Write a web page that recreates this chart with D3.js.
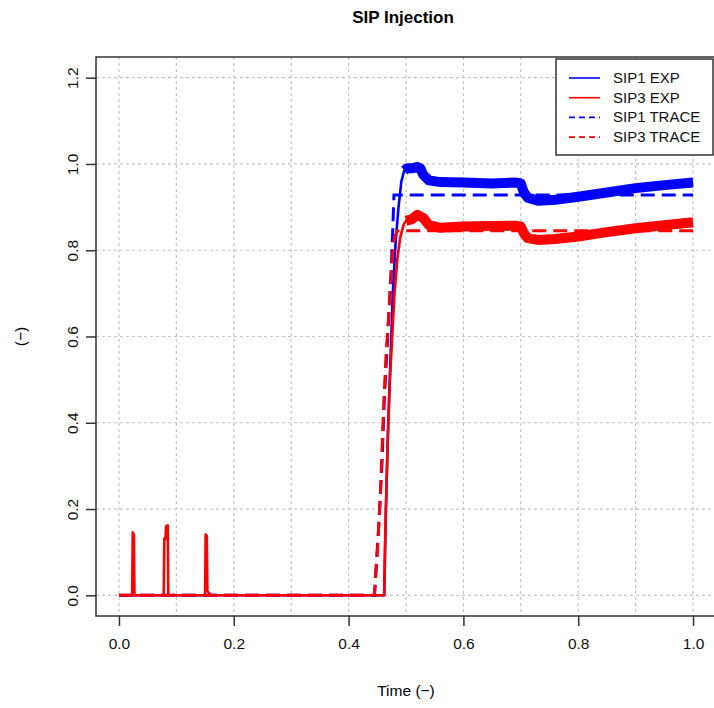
<!DOCTYPE html>
<html>
<head>
<meta charset="utf-8">
<script src="https://cdn.jsdelivr.net/npm/d3@7"></script>
<style>
  body { margin: 0; background: #fff; }
  text { font-family: "Liberation Sans", Arial, sans-serif; }
</style>
</head>
<body>
<div id="chart"></div>
<script>
// SIP1 EXP (blue) - time, value
var sip1Exp = [
    [0, 0], [0.462, 0], [0.465, 0.2], [0.469, 0.4], [0.473, 0.55], [0.477, 0.7],
    [0.482, 0.82], [0.487, 0.9], [0.492, 0.96], [0.497, 0.985], [0.502, 0.99],
    [0.51, 0.99], [0.52, 0.993], [0.525, 0.99], [0.53, 0.975], [0.54, 0.962],
    [0.56, 0.958], [0.6, 0.957], [0.65, 0.955], [0.69, 0.957], [0.70, 0.955],
    [0.705, 0.935], [0.712, 0.922], [0.73, 0.915], [0.76, 0.917], [0.8, 0.924],
    [0.85, 0.934], [0.9, 0.944], [0.95, 0.951], [1.0, 0.957]
];

// SIP3 EXP (red)
var sip3Exp = [
    [0, 0], [0.023, 0], [0.024, 0.146], [0.026, 0.14], [0.027, 0],
    [0.078, 0], [0.079, 0.132], [0.081, 0.13], [0.082, 0.16], [0.085, 0.162], [0.086, 0],
    [0.150, 0], [0.151, 0.141], [0.153, 0.138], [0.154, 0.01], [0.16, 0],
    [0.462, 0], [0.464, 0.15], [0.468, 0.35], [0.472, 0.5], [0.476, 0.6], [0.48, 0.7],
    [0.485, 0.78], [0.49, 0.83], [0.496, 0.86], [0.5, 0.868], [0.51, 0.872],
    [0.52, 0.882], [0.53, 0.875], [0.54, 0.858], [0.56, 0.852], [0.6, 0.855],
    [0.65, 0.856], [0.69, 0.857], [0.70, 0.855], [0.705, 0.84], [0.712, 0.828],
    [0.73, 0.824], [0.76, 0.826], [0.8, 0.832], [0.85, 0.842], [0.9, 0.851],
    [0.95, 0.858], [1.0, 0.865]
];

// SIP1 TRACE (blue dashed)
var sip1Trace = [
    [0, 0], [0.445, 0], [0.452, 0.15], [0.458, 0.3], [0.462, 0.45], [0.466, 0.55],
    [0.47, 0.65], [0.474, 0.75], [0.477, 0.85], [0.479, 0.928], [1.0, 0.928]
];

// SIP3 TRACE (red dashed)
var sip3Trace = [
    [0, 0], [0.445, 0], [0.45, 0.1], [0.455, 0.22], [0.46, 0.4], [0.465, 0.55],
    [0.47, 0.65], [0.476, 0.78], [0.48, 0.83], [0.485, 0.845], [1.0, 0.845]
];

var xTicks = [0, 0.2, 0.4, 0.6, 0.8, 1.0];
var yTicks = [0, 0.2, 0.4, 0.6, 0.8, 1.0, 1.2];
var xGrid = [0, 0.1, 0.2, 0.3, 0.4, 0.5, 0.6, 0.7, 0.8, 0.9, 1.0];
var legendNames = ["SIP1 EXP", "SIP3 EXP", "SIP1 TRACE", "SIP3 TRACE"];
var legendColors = ["#0000ff", "#ff0000", "#0000ff", "#ff0000"];
var legendDashed = [false, false, true, true];

function drawChart() {
    var W = 714, H = 708;

    // plot region (R style, 4% extension around data range)
    var x = d3.scaleLinear().domain([-0.04, 1.04]).range([96, 716]);
    var y = d3.scaleLinear().domain([-0.048, 1.248]).range([616, 57]);

    var svg = d3.select("#chart")
        .append("svg")
        .attr("width", W)
        .attr("height", H)
        .style("background-color", "#fff");

    var plotLeft = x(-0.04), plotRight = x(1.04), plotTop = y(1.248), plotBottom = y(-0.048);

    // grid
    svg.append("g").selectAll("line")
        .data(xGrid)
        .enter()
        .append("line")
        .attr("x1", d => x(d)).attr("x2", d => x(d))
        .attr("y1", plotTop).attr("y2", plotBottom)
        .attr("stroke", "#c4c4c4")
        .attr("stroke-width", 1.2)
        .attr("stroke-dasharray", "3,3");

    svg.append("g").selectAll("line")
        .data(yTicks)
        .enter()
        .append("line")
        .attr("x1", plotLeft).attr("x2", plotRight)
        .attr("y1", d => y(d)).attr("y2", d => y(d))
        .attr("stroke", "#c4c4c4")
        .attr("stroke-width", 1.2)
        .attr("stroke-dasharray", "3,3");

    svg.append("clipPath").attr("id", "clip")
        .append("rect")
        .attr("x", plotLeft).attr("y", plotTop)
        .attr("width", plotRight - plotLeft).attr("height", plotBottom - plotTop);

    var line = d3.line()
        .x(d => x(d[0]))
        .y(d => y(d[1]));

    var g = svg.append("g").attr("clip-path", "url(#clip)");

    // EXP lines: thin base plus thick noisy plateau band
    function drawExp(data, color) {
        g.append("path")
            .datum(data)
            .attr("d", line)
            .attr("fill", "none")
            .attr("stroke", color)
            .attr("stroke-width", 2.6)
            .attr("stroke-linejoin", "round");
        g.append("path")
            .datum(data.filter(d => d[0] >= 0.497))
            .attr("d", line)
            .attr("fill", "none")
            .attr("stroke", color)
            .attr("stroke-width", 10)
            .attr("stroke-linejoin", "round");
    }
    drawExp(sip1Exp, "#0000ff");
    drawExp(sip3Exp, "#ff0000");

    function drawTrace(data, color) {
        g.append("path")
            .datum(data)
            .attr("d", line)
            .attr("fill", "none")
            .attr("stroke", color)
            .attr("stroke-width", 3)
            .attr("stroke-dasharray", "14,7");
    }
    drawTrace(sip1Trace, "#0000ff");
    drawTrace(sip3Trace, "#ff0000");

    // box
    svg.append("rect")
        .attr("x", plotLeft).attr("y", plotTop)
        .attr("width", plotRight - plotLeft).attr("height", plotBottom - plotTop)
        .attr("fill", "none")
        .attr("stroke", "#333")
        .attr("stroke-width", 1.5);

    // X axis
    var xAxis = d3.axisBottom(x).tickValues(xTicks).tickFormat(d3.format(".1f"))
        .tickSize(10).tickPadding(12);
    var gx = svg.append("g")
        .attr("transform", "translate(0," + plotBottom + ")")
        .call(xAxis);
    gx.select(".domain").remove();
    gx.selectAll("line").attr("stroke", "#333").attr("stroke-width", 1.5);
    gx.selectAll("text").style("font-size", "15.5px").attr("fill", "#111");

    // Y axis (rotated labels)
    var yAxis = d3.axisLeft(y).tickValues(yTicks).tickFormat(d3.format(".1f"))
        .tickSize(10);
    var gy = svg.append("g")
        .attr("transform", "translate(" + plotLeft + ",0)")
        .call(yAxis);
    gy.select(".domain").remove();
    gy.selectAll("line").attr("stroke", "#333").attr("stroke-width", 1.5);
    gy.selectAll("text")
        .attr("x", 0).attr("dy", 0)
        .attr("transform", "translate(-18,0) rotate(-90)")
        .style("text-anchor", "middle")
        .style("font-size", "15.5px")
        .attr("fill", "#111");

    // title
    svg.append("text")
        .attr("x", (plotLeft + plotRight) / 2 - 3)
        .attr("y", 23)
        .attr("text-anchor", "middle")
        .style("font-size", "17px")
        .style("font-weight", "bold")
        .text("SIP Injection");

    // axis titles
    svg.append("text")
        .attr("x", (plotLeft + plotRight) / 2)
        .attr("y", 696)
        .attr("text-anchor", "middle")
        .style("font-size", "15.5px")
        .text("Time (\u2212)");

    svg.append("text")
        .attr("transform", "translate(26," + ((plotTop + plotBottom) / 2) + ") rotate(-90)")
        .attr("text-anchor", "middle")
        .style("font-size", "15.5px")
        .text("(\u2212)");

    // legend
    var lg = svg.append("g");
    lg.append("rect")
        .attr("x", 556).attr("y", plotTop + 2)
        .attr("width", 157).attr("height", 96)
        .attr("fill", "#fff")
        .attr("stroke", "#333")
        .attr("stroke-width", 1.5);

    var items = lg.selectAll("g.item")
        .data(legendNames)
        .enter()
        .append("g")
        .attr("transform", (d, i) => "translate(0," + (78 + i * 19.7) + ")");

    items.append("line")
        .attr("x1", 569).attr("x2", 600)
        .attr("y1", 0).attr("y2", 0)
        .attr("stroke", (d, i) => legendColors[i])
        .attr("stroke-width", 1.6)
        .attr("stroke-dasharray", (d, i) => legendDashed[i] ? "6,4" : null);

    items.append("text")
        .attr("x", 613)
        .attr("y", 5)
        .style("font-size", "15px")
        .attr("fill", "#111")
        .text(d => d);
}

document.addEventListener("DOMContentLoaded", drawChart);
</script>
</body>
</html>
